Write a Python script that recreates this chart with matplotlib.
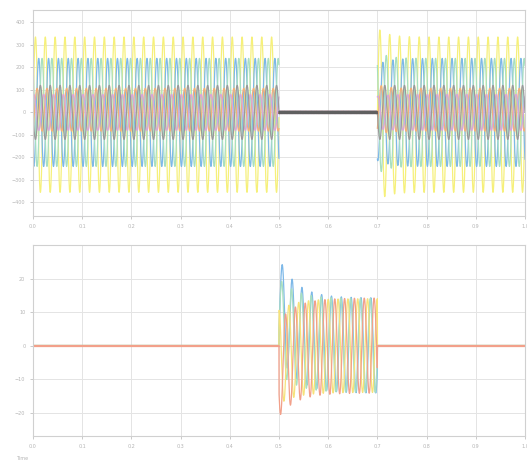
import numpy as np
import matplotlib.pyplot as plt

# Scope readings
f_grid = 50.0            # Hz, one cycle ~ 10 px
t_open = 0.5             # breaker opens
t_close = 0.7            # breaker closes again

# top scope: voltages
v_colors = ['#f6f07a', '#7db8e8', '#a8dfc0', '#f2b07a', '#d9a6d9', '#9a9a9a']
v_amp = [345, 240, 240, 95, 80, 120]
v_phase_deg = [0, -120, 120, -60, 60, 180]
v_dc = [-10, 0, 0, 12, 0, 0]
v_kick = [40, 70, -60, 30, -20, 0]      # extra swing right after reclosing
v_ripple = [0, 5, 0, 5, 0, 5]           # residual during the gap
gap_colors = ['#f6f07a', '#4f8fd0', '#a8dfc0', '#d9604a', '#d9a6d9', '#606060']

# bottom scope: currents during the gap
i_colors = ['#7db8e8', '#a8dfc0', '#f6e27a', '#f2a08a']
i_amp = [14.2, 14.0, 14.0, 14.2]
i_phase_deg = [-30, -10, 90, 210]
i_offset0 = [12.0, 6.0, -3.5, -7.0]
i_tau = 0.035

x_ticks = [0, 0.1, 0.2, 0.3, 0.4, 0.5, 0.6, 0.7, 0.8, 0.9, 1]
v_ticks = [-400, -300, -200, -100, 0, 100, 200, 300, 400]
i_ticks = [-20, -10, 0, 10, 20]

t = np.linspace(0, 1, 8001)
w = 2 * np.pi * f_grid
gap = (t >= t_open) & (t < t_close)
after = t >= t_close

fig = plt.figure(figsize=(5.27, 4.62), dpi=100)
ax1 = fig.add_axes([0.0626, 0.5325, 0.9336, 0.4459])
ax2 = fig.add_axes([0.0626, 0.0563, 0.9336, 0.4134])

for amp, ph, dc, kick, c in zip(v_amp, v_phase_deg, v_dc, v_kick, v_colors):
    y = amp * np.sin(w * t + np.radians(ph)) + dc
    y = y + kick * np.exp(-(t - t_close) / 0.02) * np.sin(w * t) * after
    y[gap] = np.nan
    ax1.plot(t, y, color=c, lw=0.9)

# residual ripple while the breaker is open
tg = t[gap]
for k, (rip, c) in enumerate(zip(v_ripple, gap_colors)):
    if rip:
        ax1.plot(tg, rip * np.sin(2 * np.pi * 400 * tg + k), color=c, lw=1.0)

for amp, ph, off, c in zip(i_amp, i_phase_deg, i_offset0, i_colors):
    y = amp * np.sin(w * (t - t_open) + np.radians(ph)) + off * np.exp(-(t - t_open) / i_tau)
    y = np.where(gap, y, 0.0)
    ax2.plot(t, y, color=c, lw=0.9)
ax2.plot([0, t_open], [0, 0], color='#f2a08a', lw=0.9)
ax2.plot([t_close, 1], [0, 0], color='#f2a08a', lw=0.9)

for ax, yt, yl in [(ax1, v_ticks, (-460, 455)), (ax2, i_ticks, (-27, 30))]:
    ax.set_xlim(0, 1)
    ax.set_ylim(*yl)
    ax.set_xticks(x_ticks)
    ax.set_yticks(yt)
    ax.grid(True, color='#e4e4e4', lw=0.7)
    ax.set_axisbelow(True)
    ax.tick_params(labelsize=3.5, colors='#b5b5b5', length=2, width=0.5)
    for s in ax.spines.values():
        s.set_color('#d0d0d0')
        s.set_linewidth(0.8)

fig.text(0.03, 0.005, 'Time', fontsize=3.5, color='#b5b5b5')

fig.savefig('out.png', dpi=100)
